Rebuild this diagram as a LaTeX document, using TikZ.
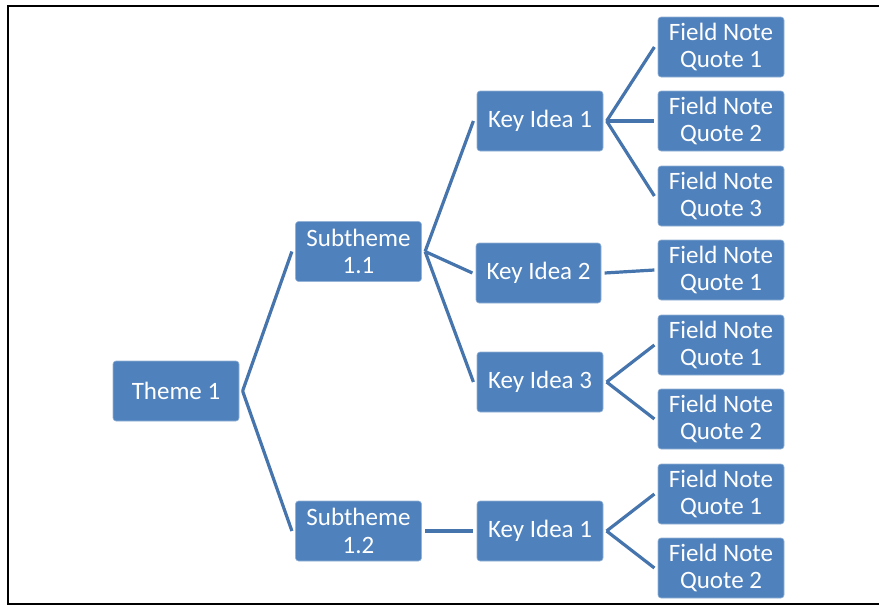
\documentclass[tikz,border=0pt]{standalone}
\usepackage{fontspec}
\setmainfont{Carlito}
\usepackage{tikz}

\definecolor{boxblue}{RGB}{79,129,189}
\definecolor{lineblue}{RGB}{70,116,172}

\begin{document}
\begin{tikzpicture}[x=0.5pt, y=-0.5pt,
    box/.style={rectangle, rounded corners=1.5pt, fill=boxblue, draw=boxblue!60!white, line width=0.3pt,
        minimum width=63pt, minimum height=30pt, inner sep=1pt, outer sep=1.8pt, align=center,
        text=white, font=\fontsize{12.5}{13.8}\selectfont},
    link/.style={draw=lineblue, line width=1.6pt}]
    \useasboundingbox (0, 0) rectangle (879, 605);
    \draw[line width=1pt] (7.7, 5.8) rectangle (900, 603.7);

    \node[box] (t) at (176, 391) {Theme 1};
    \node[box] (s1) at (358.5, 251.5) {Subtheme\\1.1};
    \node[box] (s2) at (358.5, 531) {Subtheme\\1.2};
    \node[box] (k1) at (540, 121) {Key Idea 1};
    \node[box, minimum width=62.5pt] (k2) at (538.5, 273) {Key Idea 2};
    \node[box] (k3) at (540, 382) {Key Idea 3};
    \node[box] (k4) at (540, 531) {Key Idea 1};
    \node[box] (q1) at (721, 47) {Field Note\\Quote 1};
    \node[box] (q2) at (721, 121) {Field Note\\Quote 2};
    \node[box] (q3) at (721, 196) {Field Note\\Quote 3};
    \node[box] (q4) at (721, 270) {Field Note\\Quote 1};
    \node[box] (q5) at (721, 345) {Field Note\\Quote 1};
    \node[box] (q6) at (721, 419) {Field Note\\Quote 2};
    \node[box] (q7) at (721, 494) {Field Note\\Quote 1};
    \node[box] (q8) at (721, 568) {Field Note\\Quote 2};

    \draw[link] (t.east) -- (s1.west);
    \draw[link] (t.east) -- (s2.west);
    \draw[link] (s1.east) -- (k1.west);
    \draw[link] (s1.east) -- (k2.west);
    \draw[link] (s1.east) -- (k3.west);
    \draw[link] (s2.east) -- (k4.west);
    \draw[link] (k1.east) -- (q1.west);
    \draw[link] (k1.east) -- (q2.west);
    \draw[link] (k1.east) -- (q3.west);
    \draw[link] (k2.east) -- (q4.west);
    \draw[link] (k3.east) -- (q5.west);
    \draw[link] (k3.east) -- (q6.west);
    \draw[link] (k4.east) -- (q7.west);
    \draw[link] (k4.east) -- (q8.west);
\end{tikzpicture}
\end{document}
